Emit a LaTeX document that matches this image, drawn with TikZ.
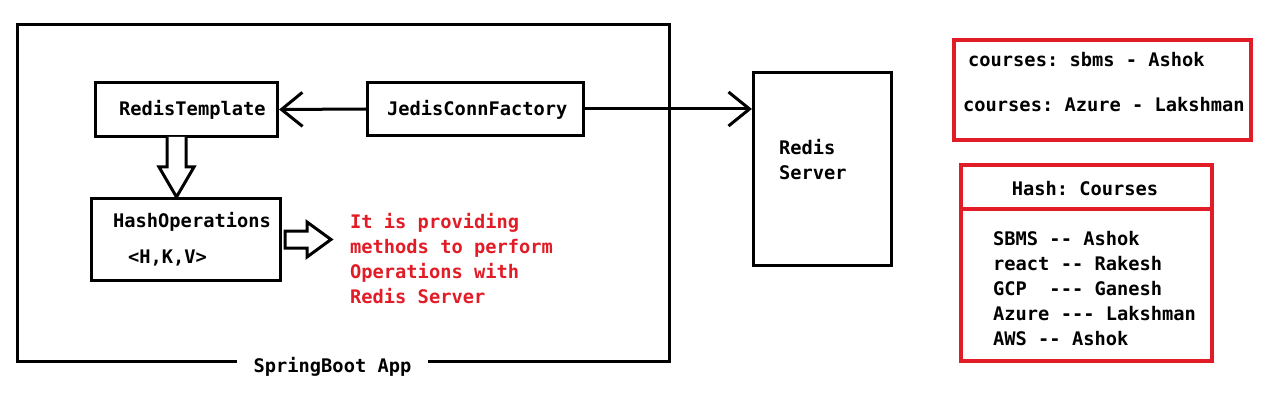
\documentclass[tikz,border=0pt]{standalone}
\usepackage{fontspec}
\setmonofont{DejaVu Sans Mono}
\usetikzlibrary{arrows.meta,calc}
\definecolor{rd}{RGB}{226,28,38}
\frenchspacing
\begin{document}
\begin{tikzpicture}[x=1pt,y=-1pt,
  every node/.style={font=\ttfamily\bfseries\fontsize{18.7}{25}\selectfont},
  box/.style={draw=black,line width=3.2pt,inner sep=0pt},
  redbox/.style={draw=rd,line width=3.6pt,inner sep=0pt},
  txt/.style={anchor=base west,inner sep=0pt},
  redtxt/.style={anchor=base west,inner sep=0pt,text=rd},
  conn/.style={line width=3pt,-{Straight Barb[length=21pt,width=34pt,line width=3pt]}},
  block/.style={draw=black,line width=3pt,fill=white,line join=miter}]
\useasboundingbox (0,0) rectangle (1280,401);

% SpringBoot App container
\node[box,minimum width=652pt,minimum height=337pt] (app) at (343.5,193) {};
\node[fill=white,anchor=base,inner xsep=16.5pt,inner ysep=3pt] (applbl) at (332.5,372) {SpringBoot App};

% inner boxes
\node[box,minimum width=182pt,minimum height=54pt] (rt) at (186.5,109.5) {};
\node[txt] (rtt) at (119,116) {RedisTemplate};
\node[box,minimum width=216pt,minimum height=53pt] (jedis) at (475.5,109) {};
\node[txt] (jedist) at (387,116) {JedisConnFactory};
\node[box,minimum width=189pt,minimum height=82pt] (hops) at (186,239.5) {};
\node[txt] (hopst) at (113,227) {HashOperations};
\node[txt] (hkv) at (128,263) {<H,K,V>};

% Redis server
\node[box,minimum width=138pt,minimum height=193pt] (srv) at (822.5,169) {};
\node[txt] (srv1) at (779,154) {Redis};
\node[txt] (srv2) at (779,179) {Server};

% connectors
\draw[conn] (jedis.west) -- (rt.east);
\draw[conn] (jedis.east) -- (jedis.east -| srv.west);

% block arrow down
\draw[block] (167,137) -- (167,167) -- (159,167) -- (176.5,197) -- (194,167) -- (186,167) -- (186,137);
% block arrow right
\draw[block] (285,231) -- (307,231) -- (307,222) -- (331,239.5) -- (307,257) -- (307,248) -- (285,248) -- cycle;

% red explanation
\node[redtxt] (r1) at (350,228) {It is providing};
\node[redtxt] (r2) at (350,253) {methods to perform};
\node[redtxt] (r3) at (350,278) {Operations with};
\node[redtxt] (r4) at (350,303) {Redis Server};

% courses box
\node[redbox,minimum width=297pt,minimum height=100pt] (cbox) at (1102.5,90) {};
\node[txt] (c1) at (968,67) {courses: sbms - Ashok};
\node[txt] (c2) at (963,112) {courses: Azure - Lakshman};

% hash box
\node[redbox,minimum width=251pt,minimum height=196pt] (hbox) at (1086.5,263) {};
\draw[draw=rd,line width=3.6pt] ($(hbox.north west)+(0,46)$) -- ($(hbox.north east)+(0,46)$);
\node[anchor=base,inner sep=0pt] (hhead) at (1085,195) {Hash: Courses};
\node[txt] (h1) at (993,245) {SBMS -- Ashok};
\node[txt] (h2) at (993,270) {react -- Rakesh};
\node[txt] (h3) at (993,295) {GCP\ \ --- Ganesh};
\node[txt] (h4) at (993,320) {Azure --- Lakshman};
\node[txt] (h5) at (993,345) {AWS -- Ashok};
\end{tikzpicture}
\end{document}
